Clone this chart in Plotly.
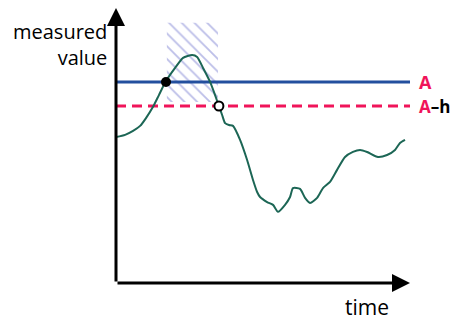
import plotly.graph_objects as go

# measured signal (time, value) in arbitrary units
time = [0.0, 0.31, 0.58, 0.82, 1.02, 1.26, 1.46, 1.70, 2.01, 2.28, 2.59, 2.76, 2.96,
        3.20, 3.37, 3.50, 3.61, 3.71, 3.84, 3.98, 4.22, 4.46, 4.66, 4.80, 4.90, 5.14,
        5.34, 5.51, 5.75, 5.92, 6.02, 6.26, 6.43, 6.60, 6.84, 7.04, 7.28, 7.52, 7.79,
        8.06, 8.30, 8.54, 8.91, 9.22, 9.49, 9.66, 9.83]
value = [5.21, 5.29, 5.43, 5.61, 5.89, 6.29, 6.71, 7.21, 7.68, 8.04, 8.14, 8.07, 7.68,
         7.18, 6.71, 6.32, 6.00, 5.71, 5.64, 5.61, 5.11, 4.39, 3.68, 3.25, 3.07, 2.89,
         2.79, 2.54, 2.79, 3.07, 3.39, 3.36, 3.04, 2.86, 3.04, 3.39, 3.61, 4.04, 4.50,
         4.68, 4.75, 4.68, 4.50, 4.57, 4.75, 5.00, 5.11]

threshold_a = 7.18
threshold_ah = 6.32
cross_up = 1.70
cross_down = 3.50
hatch_x = [1.73, 3.47]
hatch_y = [6.46, 9.29]
x_end = 10.0
y_end = 9.82

RED = "#f0145a"
BLUE = "#234f9e"
GREEN = "#1c6655"
FONT = "Open Sans"

fig = go.Figure()

# hatched region
fig.add_trace(go.Scatter(
    x=[hatch_x[0], hatch_x[1], hatch_x[1], hatch_x[0], hatch_x[0]],
    y=[hatch_y[0], hatch_y[0], hatch_y[1], hatch_y[1], hatch_y[0]],
    mode="lines", line=dict(width=0), fill="toself",
    fillcolor="rgba(0,0,0,0)",
    fillpattern=dict(shape="\\", fgcolor="rgba(95,100,200,0.85)", size=9, solidity=0.2),
    hoverinfo="skip",
))

fig.add_trace(go.Scatter(x=[0, x_end], y=[threshold_a] * 2, mode="lines",
                         line=dict(color=BLUE, width=3)))
fig.add_trace(go.Scatter(x=[0, x_end], y=[threshold_ah] * 2, mode="lines",
                         line=dict(color=RED, width=3, dash="10px,6px")))

fig.add_trace(go.Scatter(x=time, y=value, mode="lines",
                         line=dict(color=GREEN, width=2, shape="spline", smoothing=0.6)))

fig.add_trace(go.Scatter(x=[cross_up], y=[threshold_a], mode="markers",
                         marker=dict(color="black", size=10)))
fig.add_trace(go.Scatter(x=[cross_down], y=[threshold_ah], mode="markers",
                         marker=dict(color="white", size=9, line=dict(color="black", width=2))))

# axes with arrowheads
for hx, hy in [(0, y_end), (x_end, 0)]:
    fig.add_annotation(x=hx, y=hy, ax=0, ay=0, xref="x", yref="y", axref="x", ayref="y",
                       text="", showarrow=True, arrowhead=2, arrowsize=1.2,
                       arrowwidth=3, arrowcolor="black")


def px(t):
    return t / x_end


def py(v):
    return v / y_end


fig.add_annotation(x=px(-0.25), y=py(8.5), xref="paper", yref="paper", text="measured<br>value",
                   showarrow=False, xanchor="right", yanchor="middle", align="right",
                   font=dict(family=FONT, size=20, color="black"))
fig.add_annotation(x=px(8.55), y=py(-0.86), xref="paper", yref="paper", text="time",
                   showarrow=False, xanchor="center", yanchor="middle",
                   font=dict(family=FONT, size=21, color="black"))
fig.add_annotation(x=px(10.25), y=py(threshold_a), xref="paper", yref="paper", text="<b>A</b>",
                   showarrow=False, xanchor="left", yanchor="middle",
                   font=dict(family=FONT, size=18, color=RED))
fig.add_annotation(x=px(10.25), y=py(threshold_ah), xref="paper", yref="paper",
                   text="<b>A</b><b><span style='color:black'>–h</span></b>",
                   showarrow=False, xanchor="left", yanchor="middle",
                   font=dict(family=FONT, size=17, color=RED))

axis = dict(visible=False, showgrid=False, zeroline=False, fixedrange=True)
fig.update_layout(
    width=459, height=322,
    margin=dict(l=108, r=57, t=0, b=47),
    plot_bgcolor="white", paper_bgcolor="white",
    showlegend=False,
    xaxis=dict(range=[0, x_end], **axis),
    yaxis=dict(range=[0, y_end], **axis),
)

fig.write_html("out.html")
